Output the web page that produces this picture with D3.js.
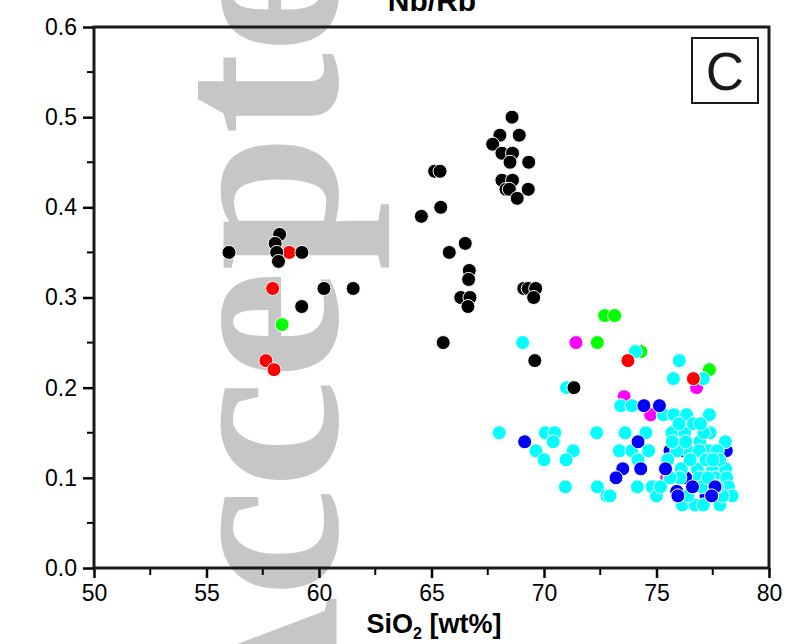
<!DOCTYPE html>
<html>
<head>
<meta charset="utf-8">
<script src="https://cdn.jsdelivr.net/npm/d3@7"></script>
<style>
  body { margin: 0; background: #fff; }
  text { font-family: Arial, "Liberation Sans", sans-serif; }
</style>
</head>
<body>
<svg id="chart" width="786" height="644"></svg>
<script>
// SiO2 [wt%], Nb/Rb
const black = [
    [56.0, 0.35], [58.25, 0.37], [58.05, 0.36], [58.12, 0.35], [58.2, 0.34], [59.24, 0.35],
    [60.22, 0.31], [61.52, 0.31], [59.23, 0.29],
    [68.58, 0.50], [68.04, 0.48], [68.9, 0.48], [67.72, 0.47], [68.13, 0.46], [68.6, 0.46],
    [68.49, 0.45], [69.32, 0.45], [68.13, 0.43], [68.6, 0.43], [68.31, 0.42], [68.46, 0.42],
    [69.3, 0.42], [68.81, 0.41],
    [65.14, 0.44], [65.38, 0.44], [65.41, 0.40], [64.55, 0.39], [66.5, 0.36], [65.79, 0.35],
    [66.68, 0.33], [66.65, 0.32], [66.3, 0.30], [66.71, 0.30], [66.62, 0.29],
    [69.1, 0.31], [69.3, 0.31], [69.63, 0.31], [69.54, 0.30], [65.52, 0.25], [69.59, 0.23], [71.33, 0.20]
];
const red = [[58.68, 0.35], [57.94, 0.31], [57.64, 0.23], [58.0, 0.22], [73.73, 0.23], [76.64, 0.21]];
const green = [[58.36, 0.27], [72.7, 0.28], [73.14, 0.28], [72.37, 0.25], [74.3, 0.24], [77.35, 0.22]];
const magenta = [[71.42, 0.25], [73.56, 0.19], [74.74, 0.17], [76.78, 0.20], [75.45, 0.10]];
const blueBack = [
    [75.6, 0.13], [76.2, 0.13], [78.1, 0.13], [76.5, 0.12], [77.2, 0.08], [75.9, 0.085],
    [77.9, 0.11], [76.3, 0.10]
];
const cyan = [
    [69.05, 0.25], [74.06, 0.24], [76.01, 0.23], [75.75, 0.21], [77.08, 0.21], [71.0, 0.20],
    [73.41, 0.18], [73.91, 0.18], [75.3, 0.17], [75.78, 0.17], [76.34, 0.17], [77.35, 0.17],
    [68.01, 0.15], [70.06, 0.15], [70.48, 0.15], [70.41, 0.14], [69.64, 0.13], [70.0, 0.12],
    [71.3, 0.13], [70.98, 0.12], [70.95, 0.09], [72.34, 0.15], [72.37, 0.09], [72.79, 0.08],
    [72.93, 0.08], [73.6, 0.15], [74.53, 0.15], [73.35, 0.13], [73.9, 0.13], [74.65, 0.13],
    [74.18, 0.12], [74.15, 0.09], [74.8, 0.09], [75.0, 0.08],
    [75.69, 0.15], [76.25, 0.15], [77.38, 0.15], [76.64, 0.16], [76.0, 0.16], [76.93, 0.14],
    [78.06, 0.14], [76.41, 0.13], [77.3, 0.13], [77.7, 0.13], [76.9, 0.13], [75.9, 0.13],
    [76.1, 0.11], [76.81, 0.11], [77.48, 0.11], [78.07, 0.11], [76.5, 0.12], [77.2, 0.12],
    [77.8, 0.12], [76.04, 0.10], [76.9, 0.10], [77.6, 0.10], [78.12, 0.10], [77.0, 0.09],
    [78.2, 0.09], [75.18, 0.09], [78.36, 0.08], [76.15, 0.07], [76.71, 0.07], [77.08, 0.07],
    [77.82, 0.07], [77.94, 0.08], [75.5, 0.12], [75.7, 0.14], [76.3, 0.14], [77.1, 0.15],
    [77.5, 0.12], [76.4, 0.08], [77.3, 0.10], [75.6, 0.10], [77.7, 0.09], [76.95, 0.16]
];
const blueFront = [
    [69.14, 0.14], [74.44, 0.18], [75.13, 0.18], [74.18, 0.14], [73.5, 0.11], [74.3, 0.11],
    [73.2, 0.10], [75.4, 0.11], [76.6, 0.09], [77.6, 0.09], [75.95, 0.08], [77.45, 0.08]
];

const xTicks = [50, 55, 60, 65, 70, 75, 80];
const yTicks = [0.0, 0.1, 0.2, 0.3, 0.4, 0.5, 0.6];

const layers = [
    { data: magenta, color: '#ff00ff' },
    { data: green, color: '#00ff00' },
    { data: blueBack, color: '#0000ff' },
    { data: cyan, color: '#00ffff' },
    { data: red, color: '#ff0000' },
    { data: black, color: '#000000' },
    { data: blueFront, color: '#0000ff' }
];

const svg = d3.select('#chart');
const x = d3.scaleLinear().domain([50, 80]).range([94, 769]);
const y = d3.scaleLinear().domain([0, 0.6]).range([568, 27]);

// watermark
svg.append('text')
    .attr('transform', 'translate(337,774) rotate(-90)')
    .style('font-family', '"Liberation Serif", "Times New Roman", serif')
    .style('font-size', '245px')
    .style('font-weight', 'bold')
    .attr('fill', '#c6c6c6')
    .text('Accepted');

// minor ticks
svg.append('g').selectAll('line').data(d3.range(2.5, 30, 5).map(d => 50 + d)).enter()
    .append('line')
    .attr('x1', d => x(d)).attr('x2', d => x(d))
    .attr('y1', 568).attr('y2', 575)
    .attr('stroke', '#000').attr('stroke-width', 2);
svg.append('g').selectAll('line').data([0.05, 0.15, 0.25, 0.35, 0.45, 0.55]).enter()
    .append('line')
    .attr('y1', d => y(d)).attr('y2', d => y(d))
    .attr('x1', 94).attr('x2', 87)
    .attr('stroke', '#000').attr('stroke-width', 2);

const xAxis = svg.append('g').attr('transform', 'translate(0,568)')
    .call(d3.axisBottom(x).tickValues(xTicks).tickSize(10).tickSizeOuter(0).tickPadding(7));
const yAxis = svg.append('g').attr('transform', 'translate(94,0)')
    .call(d3.axisLeft(y).tickValues(yTicks).tickFormat(d3.format('.1f')).tickSize(11).tickSizeOuter(0).tickPadding(6));

[xAxis, yAxis].forEach(a => {
    a.select('.domain').remove();
    a.selectAll('line').attr('stroke-width', 2.5);
    a.selectAll('text').style('font-size', '23px').attr('fill', '#000')
        .style('font-family', 'Arial, "Liberation Sans", sans-serif');
});

// frame
svg.append('rect')
    .attr('x', 94).attr('y', 27).attr('width', 675).attr('height', 541)
    .attr('fill', 'none').attr('stroke', '#1a1a1a').attr('stroke-width', 3);

// points
layers.forEach(l => {
    svg.append('g').selectAll('circle').data(l.data).enter()
        .append('circle')
        .attr('cx', d => x(d[0])).attr('cy', d => y(d[1])).attr('r', 7)
        .attr('fill', l.color).attr('stroke', '#fff').attr('stroke-width', 1);
});

// panel label
svg.append('rect').attr('x', 692).attr('y', 38).attr('width', 66).attr('height', 65)
    .attr('fill', '#fff').attr('stroke', '#1a1a1a').attr('stroke-width', 2);
svg.append('text').attr('x', 725).attr('y', 90).attr('text-anchor', 'middle')
    .style('font-size', '53px').attr('fill', '#1a1a1a').text('C');

// title
svg.append('text').attr('x', 432).attr('y', 11).attr('text-anchor', 'middle')
    .style('font-size', '30px').style('font-weight', 'bold').text('Nb/Rb');

// x axis title
const xt = svg.append('text').attr('x', 434).attr('y', 633).attr('text-anchor', 'middle')
    .style('font-size', '27px').style('font-weight', 'bold');
xt.append('tspan').text('SiO');
xt.append('tspan').attr('dy', 6).style('font-size', '16px').text('2');
xt.append('tspan').attr('dy', -6).text(' [wt%]');
</script>
</body>
</html>
